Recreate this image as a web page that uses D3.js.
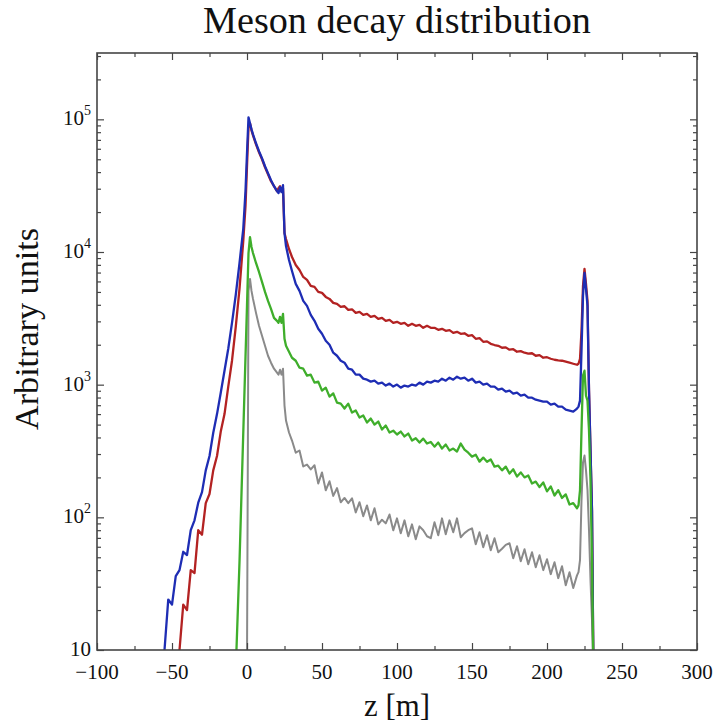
<!DOCTYPE html>
<html><head><meta charset="utf-8">
<script src="https://cdn.jsdelivr.net/npm/d3@7"></script>
<style>body{margin:0;background:#fff} svg{display:block}</style>
</head><body><svg id="chart" width="718" height="725"></svg>
<script>
// ---- data (z bin centres in metres, series values in arbitrary units) ----
const zBins = [
  -55,-52.5,-50,-47.5,-45,-42.5,-40,-37.5,-35,-32.5,-30,-27.5,-25,-22.5,-20,-17.5,-15,-12.5,-10,-7.5,-5,-2.5,
  -1,0,1,2,3,4,6,8,10,12,14,16,18,20,21,22,23,24,25,26,28,
  30,32.5,35,37.5,40,42.5,45,47.5,50,52.5,
  55,57.5,60,62.5,65,67.5,70,72.5,75,77.5,
  80,82.5,85,87.5,90,92.5,95,97.5,100,102.5,
  105,107.5,110,112.5,115,117.5,120,122.5,125,127.5,
  130,132.5,135,137.5,140,142.5,145,147.5,150,152.5,
  155,157.5,160,162.5,165,167.5,170,172.5,175,177.5,
  180,182.5,185,187.5,190,192.5,195,197.5,200,202.5,
  205,207.5,210,212.5,215,217.5,220,
  221,222,223,224,225,226,227,228,229,230,231
];
const redValues = [
  null,null,null,null,10,22,20,40,38,80,74,128,150,226,290,443,600,967,1515,2727,5270,12090,
  22170,44300,87030,93300,82620,75790,64840,56450,50000,43550,38580,34170,31340,28740,30280,31340,28740,30280,13890,12510,10530,
  9170,7984,7320,6484,6156,5551,5455,5002,4917,4587,
  4431,4135,4064,3858,3900,3663,3700,3478,3538,3359,
  3418,3245,3302,3134,3189,3028,3081,2926,2976,2875,
  2926,2777,2875,2777,2826,2683,2777,2683,2683,2592,
  2637,2547,2580,2460,2503,2418,2440,2336,2360,2217,
  2240,2105,2120,2033,1990,1964,1898,1910,1834,1850,
  1771,1790,1741,1711,1725,1652,1670,1596,1610,1568,
  1541,1525,1515,1489,1464,1438,1413,
  1438,1568,2547,5551,7450,5747,4280,902,319,113,6
];
const blueValues = [
  10,24,22,36,40,55,52,80,95,129,155,226,290,434,600,870,1274,1865,2920,4740,8260,14900,
  28740,55500,103500,93300,84000,77100,66000,57440,50900,44300,39260,34770,31340,28740,27770,30800,28250,31890,13890,11090,8705,
  7195,5747,5090,4280,3926,3360,3028,2637,2419,2142,
  2000,1741,1652,1515,1464,1319,1296,1190,1190,1110,
  1091,1054,1072,1018,1036,984,1018,967,1001,950,
  984,967,1001,984,1036,1001,1054,1036,1072,1054,
  1110,1072,1129,1091,1149,1110,1129,1072,1110,1036,
  1054,1001,1018,967,967,918,934,886,902,856,
  871,827,841,798,798,771,758,745,745,707,
  720,683,683,649,638,627,661,
  683,758,1802,4668,6950,5270,3926,902,319,113,6
];
const greenValues = [
  null,null,null,null,null,null,null,null,null,null,null,null,null,null,null,null,null,null,null,7,46,428,
  1624,3926,9829,12960,10900,9829,8266,7071,5950,5002,4280,3726,3190,3028,2926,3245,2926,3418,2218,1964,1771,
  1596,1515,1342,1319,1169,1190,1036,1054,902,950,
  813,860,732,720,661,720,616,638,565,585,
  518,555,500,527,459,492,436,450,421,443,
  407,428,379,395,366,392,360,370,341,366,
  330,354,319,330,313,360,324,307,287,296,
  263,282,262,273,241,245,226,241,214,230,
  203,218,200,207,180,186,169,183,157,171,
  146,160,140,149,125,128,117,
  123,160,451,1169,1274,827,758,451,190,47.5,6
];
const grayValues = [
  null,null,null,null,null,null,null,null,null,null,null,null,null,null,null,null,null,null,null,null,null,null,
  null,8,5090,6264,5090,4431,3478,2777,2336,1964,1652,1464,1319,1231,1190,1296,1190,1319,696,536,436,
  379,307,319,242,250,230,247,180,218,160,
  187,145,166,130,140,128,139,109,130,102,
  123,94.9,117,88.5,96,90,105,79.8,98.2,75.8,
  94.9,71.9,88.5,68.4,85.5,80,72,69.6,91.7,73.3,
  98.2,74.5,94.9,77.1,98.2,70.8,76,80,82.6,62.7,
  77.1,59.5,73.3,56.5,69.6,54.6,58,62,63.8,49.2,
  60.5,46.7,57.5,44.3,54.6,42.1,51.8,40.0,48.3,37.3,
  45.9,34.8,42.8,30.8,38.6,29.3,36.5,
  38.6,47.5,134,259,292,226,160,79.8,33.6,16.8,6
];
const seriesNames = ["gray", "red", "blue", "green"];
const seriesColors = {red: "#b32222", blue: "#1e2db4", green: "#3fae2b", gray: "#8a8a8a"};
const xMajorTicks = [-100, -50, 0, 50, 100, 150, 200, 250, 300];
const xMinorTicks = [-75, -25, 25, 75, 125, 175, 225, 275];
const yMajorTicks = [10, 100, 1000, 10000, 100000];
const yExponents = [1, 2, 3, 4, 5];
const titleText = "Meson decay distribution";
const xLabelText = "z [m]";
const yLabelText = "Arbitrary units";

// ---- layout ----
const W = 718, H = 725;
const m = {left: 97, right: 21, top: 53, bottom: 75};
const pw = W - m.left - m.right, ph = H - m.top - m.bottom;
const font = "'Liberation Serif','DejaVu Serif',serif";
const axisColor = "#454545";

const svg = d3.select("#chart");
const x = d3.scaleLinear().domain([-100, 300]).range([m.left, m.left + pw]);
const y = d3.scaleLog().domain([10, Math.pow(10, 5.5)]).range([m.top + ph, m.top]);

svg.append("defs").append("clipPath").attr("id", "clip")
  .append("rect").attr("x", m.left).attr("y", m.top).attr("width", pw).attr("height", ph);

const valuesBy = {red: redValues, blue: blueValues, green: greenValues, gray: grayValues};
const line = d3.line()
  .defined(d => d.v != null)
  .x(d => x(d.z)).y(d => y(d.v));

const plot = svg.append("g").attr("clip-path", "url(#clip)");
seriesNames.forEach(name => {
  const rows = zBins.map((z, i) => ({z, v: valuesBy[name][i]}));
  plot.append("path").datum(rows)
    .attr("fill", "none")
    .attr("stroke", seriesColors[name])
    .attr("stroke-width", name === "gray" ? 2 : 2.3)
    .attr("stroke-linejoin", "round")
    .attr("d", line);
});

// ---- axes (ticks inside, on all four sides) ----
const yMinor = [];
for (let e = 1; e <= 5; e++) for (let k = 2; k <= 9; k++) {
  const v = k * Math.pow(10, e);
  if (v <= Math.pow(10, 5.5)) yMinor.push(v);
}
function styleAxis(g) {
  g.selectAll(".domain").remove();
  g.selectAll("line").attr("stroke", axisColor).attr("stroke-width", 1.2);
  g.selectAll("text").remove();
}
svg.append("g").attr("transform", `translate(0,${m.top + ph})`)
  .call(d3.axisBottom(x).tickValues(xMajorTicks).tickSize(-7)).call(styleAxis);
svg.append("g").attr("transform", `translate(0,${m.top + ph})`)
  .call(d3.axisBottom(x).tickValues(xMinorTicks).tickSize(-4)).call(styleAxis);
svg.append("g").attr("transform", `translate(0,${m.top})`)
  .call(d3.axisTop(x).tickValues(xMajorTicks).tickSize(-7)).call(styleAxis);
svg.append("g").attr("transform", `translate(0,${m.top})`)
  .call(d3.axisTop(x).tickValues(xMinorTicks).tickSize(-4)).call(styleAxis);
svg.append("g").attr("transform", `translate(${m.left},0)`)
  .call(d3.axisLeft(y).tickValues(yMajorTicks).tickSize(-7)).call(styleAxis);
svg.append("g").attr("transform", `translate(${m.left},0)`)
  .call(d3.axisLeft(y).tickValues(yMinor).tickSize(-4)).call(styleAxis);
svg.append("g").attr("transform", `translate(${m.left + pw},0)`)
  .call(d3.axisRight(y).tickValues(yMajorTicks).tickSize(-7)).call(styleAxis);
svg.append("g").attr("transform", `translate(${m.left + pw},0)`)
  .call(d3.axisRight(y).tickValues(yMinor).tickSize(-4)).call(styleAxis);

svg.append("rect").attr("x", m.left).attr("y", m.top).attr("width", pw).attr("height", ph)
  .attr("fill", "none").attr("stroke", axisColor).attr("stroke-width", 1.6);

// x tick labels
svg.append("g").selectAll("text").data(xMajorTicks).join("text")
  .attr("x", d => x(d)).attr("y", m.top + ph + 29)
  .attr("text-anchor", "middle")
  .attr("font-family", font).attr("font-size", 21).attr("fill", "#111")
  .text(d => d < 0 ? "\u2212" + Math.abs(d) : String(d));

// y tick labels 10, 10^2 ...
const yl = svg.append("g").selectAll("text").data(yMajorTicks).join("text")
  .attr("x", m.left - 6).attr("y", d => y(d) + 6)
  .attr("text-anchor", "end")
  .attr("font-family", font).attr("font-size", 21).attr("fill", "#111");
yl.each(function(d, i) {
  const t = d3.select(this);
  t.append("tspan").text("10");
  if (yExponents[i] !== 1) t.append("tspan").attr("dy", -10).attr("font-size", 14).text(String(yExponents[i]));
});

function fitText(sel, target, size) {
  const len = sel.node().getComputedTextLength();
  if (len > 0) sel.attr("font-size", size * target / len);
}
const title = svg.append("text").attr("x", m.left + pw / 2).attr("y", 33)
  .attr("text-anchor", "middle").attr("font-family", font).attr("font-size", 30)
  .attr("fill", "#111").text(titleText);
fitText(title, 388, 30);

const xl = svg.append("text").attr("x", m.left + pw / 2).attr("y", 716)
  .attr("text-anchor", "middle").attr("font-family", font).attr("font-size", 26)
  .attr("fill", "#111").text(xLabelText);
fitText(xl, 66, 26);

const ylab = svg.append("text").attr("transform", `translate(38,${329}) rotate(-90)`)
  .attr("text-anchor", "middle").attr("font-family", font).attr("font-size", 26)
  .attr("fill", "#111").text(yLabelText);
fitText(ylab, 202, 26);
</script>
</body></html>
